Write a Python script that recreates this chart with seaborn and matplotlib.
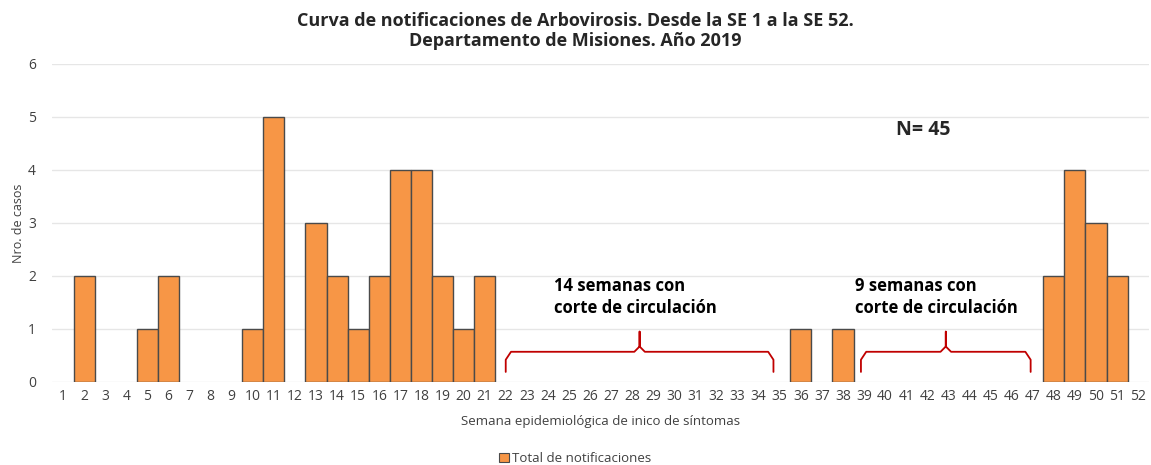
import pandas as pd
import matplotlib.pyplot as plt
import seaborn as sns
from matplotlib.patches import Patch

weeks = list(range(1, 53))
counts = [0, 2, 0, 0, 1, 2, 0, 0, 0, 1, 5, 0, 3, 2, 1, 2, 4, 4, 2, 1,
          2, 0, 0, 0, 0, 0, 0, 0, 0, 0, 0, 0, 0, 0, 0, 1, 0, 1, 0, 0,
          0, 0, 0, 0, 0, 0, 0, 2, 4, 3, 2, 0]
gaps = [("14 semanas con\ncorte de circulación", 22, 34.7, 24.3),
        ("9 semanas con\ncorte de circulación", 38.85, 46.9, 38.55)]

bar_color = '#F79646'
edge_color = '#4a4a4a'


def draw_brace(ax, x0, x1, color='#C00000'):
    mid = (x0 + x1) / 2
    y_low, y_mid, y_top = 0.19, 0.57, 0.95
    r = 0.25
    xs = [x0, x0, x0 + r, mid - r, mid, mid, mid, mid + r, x1 - r, x1, x1]
    ys = [y_low, y_mid - 0.15, y_mid, y_mid, y_mid + 0.1, y_top, y_mid + 0.1, y_mid, y_mid, y_mid - 0.15, y_low]
    ax.plot(xs, ys, color=color, lw=1.3, solid_joinstyle='round')


if __name__ == '__main__':
    sns.set_style('white')
    plt.rcParams['font.family'] = ['Open Sans', 'DejaVu Sans']

    df = pd.DataFrame({'Semana': [str(w) for w in weeks], 'Casos': counts})
    df = df[df['Casos'] > 0]

    fig = plt.figure(figsize=(11.51, 4.65), dpi=100)
    ax = fig.add_axes([0.0456, 0.1785, 0.9524, 0.6839])
    sns.barplot(data=df, x='Semana', y='Casos', order=[str(w) for w in weeks],
                color=bar_color, edgecolor=edge_color, linewidth=1, width=1,
                saturation=1, ax=ax, zorder=3)

    ax.set_ylim(0, 6)
    ax.set_xlim(-0.5, 51.5)
    ax.set_yticks(range(0, 7))
    ax.yaxis.grid(True, color='#e6e6e6', lw=1, zorder=0)
    for s in ax.spines.values():
        s.set_visible(False)
    ax.tick_params(axis='both', length=0, labelsize=10, colors='#404040', pad=5)
    ax.tick_params(axis='y', pad=12)
    ax.set_xlabel('Semana epidemiológica de inico de síntomas', fontsize=9.5, color='#404040', labelpad=8)
    ax.set_ylabel('Nro. de casos', fontsize=9, color='#404040', labelpad=2)

    for text, a, b, tx in gaps:
        draw_brace(ax, a - 1, b - 1)
        ax.text(tx - 1, 1.98, text, fontsize=12, fontweight='bold', va='top', ha='left',
                color='black', linespacing=1.3)

    ax.text(39.5, 4.75, 'N= 45', fontsize=14, fontweight='bold', va='center', ha='left')

    fig.suptitle('Curva de notificaciones de Arbovirosis. Desde la SE 1 a la SE 52.\n'
                 'Departamento de Misiones. Año 2019',
                 fontsize=13, fontweight='bold', y=0.975, linespacing=1.15)

    handle = Patch(facecolor=bar_color, edgecolor=edge_color, lw=0.8)
    fig.legend([handle], ['Total de notificaciones'], loc='lower center', bbox_to_anchor=(0.5, -0.025),
               frameon=False, fontsize=9.5, handlelength=0.7, handleheight=0.7, handletextpad=0.3,
               labelcolor='#404040')

    plt.savefig('out.png', dpi=100)
